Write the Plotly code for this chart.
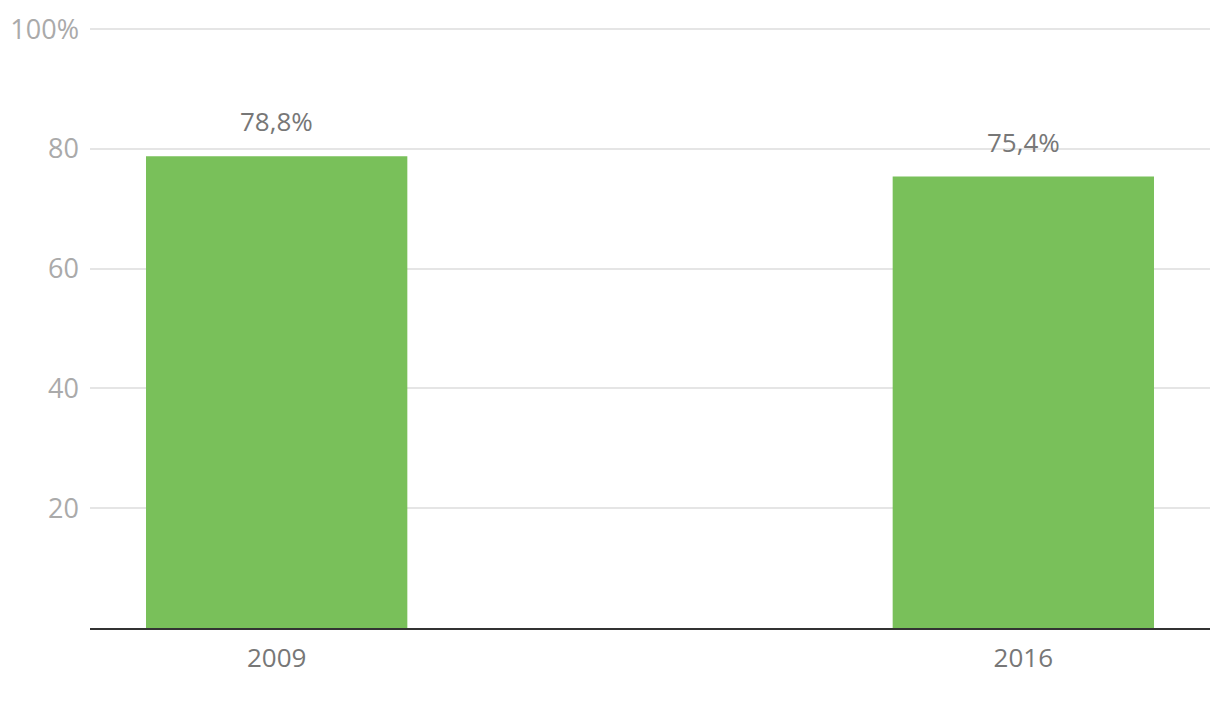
import plotly.graph_objects as go

categories = ["2009", "2016"]
values = [78.8, 75.4]
value_labels = ["78,8%", "75,4%"]
y_tickvals = [20, 40, 60, 80, 100]
y_ticktext = ["20", "40", "60", "80", "100%"]

fig = go.Figure()
fig.add_trace(go.Bar(
    x=categories, y=values,
    marker=dict(color="#79c05a", line=dict(width=0)),
    hoverinfo="skip",
))

for i, (v, t) in enumerate(zip(values, value_labels)):
    fig.add_annotation(x=i, y=v, xref="x", yref="y", text=t, showarrow=False,
                       yanchor="bottom", yshift=15,
                       font=dict(family="Open Sans", size=26, color="#777777"))

fig.update_layout(
    width=1204, height=696,
    margin=dict(l=82, r=2, t=20, b=76, autoexpand=False),
    paper_bgcolor="white", plot_bgcolor="white",
    bargap=0.65,
    showlegend=False,
    font=dict(family="Open Sans"),
)
fig.update_xaxes(
    type="category", range=[-0.25, 1.25],
    showline=True, linecolor="#333333", linewidth=2,
    showgrid=False, ticks="",
    tickfont=dict(size=26, color="#777777"),
    ticklabelstandoff=6,
)
fig.update_yaxes(
    range=[0, 100.2], tickvals=y_tickvals, ticktext=y_ticktext,
    showgrid=True, gridcolor="#e5e5e5", gridwidth=2,
    zeroline=False, showline=False, ticks="",
    tickfont=dict(size=27, color="#aaaaaa"),
    ticklabelstandoff=10,
)

fig.write_html("out.html")
